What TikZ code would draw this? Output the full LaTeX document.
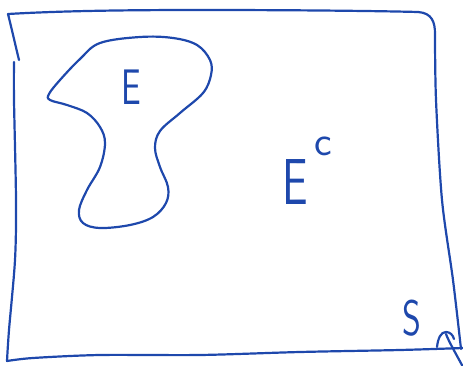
\documentclass[tikz,border=0pt]{standalone}
\definecolor{pen}{RGB}{30,72,172}
\begin{document}
\begin{tikzpicture}[x=1pt,y=-1pt,
  ink/.style={draw=pen,line width=2.2pt,line cap=round,line join=round},
  hand/.style={text=pen,inner sep=0pt,font=\sffamily\fontsize{50}{50}\selectfont}]
\useasboundingbox (0,0) rectangle (463,366);
% sample space box
\draw[ink] (19,60) .. controls (17,52) and (12,30) .. (8,14)
  .. controls (60,11) and (120,10) .. (200,10)
  .. controls (300,10) and (380,11) .. (418,12)
  .. controls (432,13) and (435,22) .. (435,34)
  plot[smooth,tension=0.5] coordinates{(435,34) (436,100) (442,200) (453,280) (461,349)};
\draw[ink] plot[smooth,tension=0.5] coordinates{(14,62) (14,100) (16,200) (15,260) (9,330) (7,361)}
  -- plot[smooth,tension=0.5] coordinates{(7,361) (33,358) (100,355) (200,355) (300,352) (400,350) (463,348)};
% event E
\draw[ink] plot[smooth cycle,tension=0.6] coordinates{(100,43) (140,37) (173,38) (197,45) (210,60) (211,75)
  (203,93) (180,113) (160,131) (155,148) (160,167) (168,187) (166,203) (153,217) (130,225) (100,228)
  (83,223) (79,210) (87,190) (100,167) (105,143) (100,127) (87,113) (67,105) (50,100) (49,94)
  (60,80) (80,59)};
\node[hand,anchor=base west] (E) at (121,105) {\scalebox{0.7}[1]{E}};
\node[hand,anchor=base west] (Ec) at (282,205) {\fontsize{65}{65}\selectfont\scalebox{0.7}[1]{E}\hspace{7pt}\raisebox{50pt}{\fontsize{42}{42}\selectfont c}};
\node[hand,anchor=base west] (S) at (402,335) {\scalebox{0.72}[1]{S}};
% arrow to the space
\coordinate (tail) at (463,367);
\coordinate (tip) at (446,334);
\coordinate (barbL) at (437,347);
\coordinate (barbR) at (454,339);
\draw[ink] (tail) .. controls (455,352) and (449,342) .. (tip);
\draw[ink] (barbL) .. controls (438,338) and (441,332) .. (446,332) .. controls (450,332) and (453,335) .. (barbR);
\end{tikzpicture}
\end{document}
